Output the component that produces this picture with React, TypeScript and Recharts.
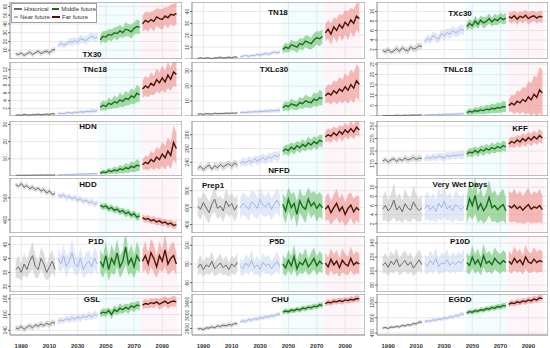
import { ComposedChart, Line, Area, XAxis, YAxis, CartesianGrid, ReferenceArea } from "recharts";

// one value every second year, 1986..2100
const years = Array.from({ length: 58 }, (_, i) => 1986 + 2 * i);
const periodKeys = ["hist", "near", "mid", "far"];
const periodLabels = ["Historical", "Near future", "Middle future", "Far future"];
const periodEnds = [15, 30, 45, 58];
const xTicks = [1990, 2010, 2030, 2050, 2070, 2090];

const titles = [
  "TX30", "TN18", "TXc30",
  "TNc18", "TXLc30", "TNLc18",
  "HDN", "NFFD", "KFF",
  "HDD", "Prep1", "Very Wet Days",
  "P1D", "P5D", "P10D",
  "GSL", "CHU", "EGDD",
];

const tx30 = [6, 5, 7, 4, 6, 8, 5, 7, 9, 6, 8, 9, 7, 10, 11, 15, 18, 16, 17, 20, 19, 21, 19, 23, 22, 21, 24, 26, 24, 25, 22, 26, 25, 28, 27, 30, 29, 32, 30, 34, 33, 31, 35, 37, 36, 40, 44, 42, 45, 43, 48, 46, 45, 49, 47, 51, 50, 52];
const tx30Spread = [2, 3, 2, 3, 2, 3, 3, 2, 3, 3, 2, 3, 3, 3, 3, 3, 4, 4, 3, 4, 5, 4, 4, 5, 4, 5, 5, 4, 5, 5, 5, 6, 7, 6, 7, 6, 8, 7, 6, 8, 7, 8, 7, 8, 8, 9, 10, 11, 9, 12, 10, 11, 12, 10, 12, 11, 13, 12];

const tn18 = [0.5, 1, 0.4, 1, 0.8, 0.3, 1, 0.9, 1.5, 0.8, 1, 1.6, 1, 1.8, 1.5, 2, 2.4, 3, 2.2, 3.1, 2.8, 3.9, 3.2, 4.1, 4.8, 4, 5, 5.8, 5.1, 6, 8, 10, 9, 12, 11, 10, 13, 12, 15, 14, 13, 16, 18, 17, 19, 22, 25, 21, 27, 24, 29, 26, 31, 28, 33, 30, 36, 34];
const tn18Spread = [0.6, 0.8, 0.7, 0.9, 0.8, 0.7, 0.9, 0.8, 1, 0.9, 0.8, 1, 0.9, 1, 1, 1, 1.2, 1.1, 1.3, 1.2, 1.4, 1.3, 1.5, 1.4, 1.6, 1.5, 1.7, 1.6, 1.8, 1.8, 3, 4, 3.5, 4.5, 4, 5, 4.5, 5, 4.8, 5.5, 5, 6, 5.5, 6.2, 6, 7, 8, 9, 8, 10, 9, 11, 10, 12, 10, 12, 11, 13];

const txc30 = [1.8, 1.5, 2.0, 1.4, 1.7, 2.2, 1.6, 2.4, 1.9, 1.7, 2.5, 2.1, 2.3, 2.8, 2.6, 3.6, 4.4, 3.9, 5.0, 4.5, 4.2, 5.4, 4.9, 5.6, 5.2, 6.0, 5.5, 5.8, 6.3, 6.0, 6.8, 7.5, 7.0, 8.0, 7.3, 8.2, 7.6, 7.9, 8.5, 7.8, 8.4, 8.1, 8.7, 8.3, 8.6, 8.9, 8.6, 9.1, 8.4, 9.0, 8.7, 9.2, 8.5, 8.9, 9.1, 8.6, 9.0, 8.8];
const txc30Spread = [0.5, 0.6, 0.7, 0.5, 0.6, 0.8, 0.6, 0.7, 0.6, 0.8, 0.7, 0.6, 0.8, 0.7, 0.7, 0.7, 0.8, 0.9, 0.8, 1.0, 0.9, 0.8, 1.0, 0.9, 1.1, 1.0, 0.9, 1.0, 1.1, 1.0, 0.8, 1.0, 0.9, 1.1, 1.0, 0.9, 1.2, 1.0, 1.1, 0.9, 1.2, 1.0, 1.1, 1.0, 1.2, 1.0, 1.2, 1.1, 1.3, 1.0, 1.2, 1.1, 1.3, 1.2, 1.0, 1.2, 1.1, 1.3];

const tnc18 = [0.2, 0.3, 0.2, 0.4, 0.3, 0.2, 0.4, 0.3, 0.5, 0.3, 0.4, 0.5, 0.4, 0.6, 0.5, 0.6, 0.7, 0.6, 0.8, 0.9, 0.7, 1.0, 0.9, 1.1, 1.0, 1.2, 1.1, 1.3, 1.2, 1.4, 2.3, 2.8, 2.5, 3.3, 3.0, 3.7, 3.4, 4.2, 3.8, 4.6, 4.3, 5.2, 4.8, 5.9, 5.5, 7.0, 7.8, 7.3, 8.5, 7.9, 9.4, 8.6, 9.9, 8.8, 10.6, 9.5, 11.4, 10.8];
const tnc18Spread = [0.2, 0.2, 0.2, 0.3, 0.2, 0.2, 0.3, 0.2, 0.3, 0.2, 0.3, 0.3, 0.3, 0.3, 0.3, 0.3, 0.4, 0.3, 0.4, 0.4, 0.4, 0.5, 0.4, 0.5, 0.5, 0.5, 0.5, 0.6, 0.5, 0.6, 1.0, 1.3, 1.1, 1.5, 1.2, 1.6, 1.4, 1.8, 1.5, 1.9, 1.6, 2.0, 1.8, 2.2, 2.0, 2.2, 2.6, 2.4, 2.9, 2.5, 3.0, 2.7, 3.2, 2.8, 3.4, 3.0, 3.6, 3.3];

const txlc30 = [1.2, 1.5, 1.1, 1.6, 1.4, 1.3, 1.8, 1.5, 1.7, 1.6, 1.9, 1.7, 2.0, 1.8, 2.1, 2.2, 2.5, 2.3, 2.7, 2.6, 2.9, 2.7, 3.1, 3.0, 3.3, 3.2, 3.6, 3.4, 3.8, 3.7, 5.5, 7.0, 6.2, 8.1, 7.3, 6.8, 9.0, 8.2, 10.1, 9.3, 8.8, 11.2, 10.4, 12.3, 11.6, 13.5, 15.2, 14.0, 16.8, 15.1, 18.0, 16.4, 19.5, 17.2, 21.0, 18.6, 23.5, 21.0];
const txlc30Spread = [0.6, 0.7, 0.6, 0.8, 0.7, 0.6, 0.8, 0.7, 0.8, 0.7, 0.9, 0.8, 0.9, 0.8, 0.9, 1.0, 1.1, 1.0, 1.2, 1.1, 1.2, 1.1, 1.3, 1.2, 1.3, 1.2, 1.4, 1.3, 1.5, 1.4, 2.5, 3.0, 2.8, 3.4, 3.1, 3.0, 3.8, 3.5, 4.2, 3.9, 3.7, 4.6, 4.3, 5.0, 4.8, 5.0, 6.0, 6.5, 7.0, 7.5, 8.0, 8.0, 9.0, 9.0, 10.0, 10.0, 11.0, 11.0];

const tnlc18 = [0.2, 0.3, 0.2, 0.3, 0.2, 0.4, 0.3, 0.3, 0.4, 0.3, 0.4, 0.5, 0.4, 0.5, 0.5, 0.5, 0.6, 0.6, 0.7, 0.6, 0.8, 0.7, 0.8, 0.9, 0.8, 1.0, 0.9, 1.1, 1.0, 1.2, 1.6, 2.2, 1.9, 2.6, 2.3, 2.9, 2.6, 3.3, 3.0, 3.7, 3.4, 4.1, 3.8, 4.6, 4.3, 5.0, 6.2, 5.4, 7.1, 6.3, 8.0, 7.0, 9.2, 7.8, 10.5, 9.0, 12.6, 11.0];
const tnlc18Spread = [0.2, 0.2, 0.2, 0.2, 0.2, 0.3, 0.2, 0.2, 0.3, 0.2, 0.3, 0.3, 0.3, 0.3, 0.3, 0.3, 0.4, 0.4, 0.4, 0.4, 0.5, 0.4, 0.5, 0.5, 0.5, 0.6, 0.5, 0.6, 0.6, 0.7, 1.2, 1.5, 1.3, 1.7, 1.5, 1.9, 1.7, 2.1, 1.9, 2.3, 2.1, 2.5, 2.3, 2.7, 2.5, 3, 4, 4.5, 5, 5.5, 6, 6.5, 7.5, 8, 9, 9.5, 11, 11];

const hdn = [0.4, 0.5, 0.4, 0.5, 0.5, 0.4, 0.6, 0.5, 0.5, 0.6, 0.5, 0.6, 0.6, 0.5, 0.7, 0.7, 0.8, 0.7, 0.9, 0.8, 1.0, 0.9, 1.1, 1.0, 1.2, 1.1, 1.3, 1.2, 1.4, 1.3, 1.6, 2.4, 2.0, 3.1, 2.6, 3.5, 3.0, 4.2, 3.6, 4.8, 4.2, 5.6, 5.0, 6.3, 5.8, 6.5, 8.0, 7.2, 9.6, 8.3, 11.0, 9.5, 12.8, 10.6, 14.5, 12.0, 19.5, 16.0];
const hdnSpread = [0.2, 0.2, 0.2, 0.2, 0.2, 0.2, 0.3, 0.2, 0.2, 0.3, 0.2, 0.3, 0.3, 0.2, 0.3, 0.3, 0.4, 0.3, 0.4, 0.4, 0.5, 0.4, 0.5, 0.5, 0.6, 0.5, 0.6, 0.6, 0.7, 0.6, 1.0, 1.4, 1.2, 1.8, 1.5, 2.0, 1.8, 2.4, 2.1, 2.7, 2.4, 3.0, 2.8, 3.4, 3.1, 3, 4, 4, 5, 5, 6, 6, 7, 7, 8, 8, 10, 9];

const nffd = [231, 234, 229, 233, 236, 230, 235, 232, 237, 233, 236, 238, 234, 239, 236, 238, 241, 239, 243, 240, 245, 242, 244, 247, 243, 248, 246, 250, 248, 251, 256, 259, 257, 262, 259, 264, 261, 266, 263, 268, 265, 270, 267, 272, 270, 277, 280, 278, 283, 279, 285, 281, 287, 283, 289, 284, 291, 287];
const nffdSpread = [4, 5, 4, 5, 5, 4, 6, 5, 5, 6, 5, 5, 6, 5, 6, 5, 6, 5, 6, 6, 5, 7, 6, 6, 7, 6, 7, 6, 7, 7, 6, 7, 8, 7, 8, 7, 8, 8, 7, 9, 8, 8, 9, 8, 9, 8, 9, 10, 9, 10, 9, 11, 10, 10, 11, 10, 11, 10];

const kff = [180, 183, 178, 182, 185, 179, 184, 181, 186, 182, 184, 187, 183, 186, 185, 184, 187, 185, 189, 186, 190, 188, 186, 191, 189, 192, 190, 193, 191, 194, 194, 198, 196, 201, 197, 203, 200, 205, 202, 207, 204, 209, 206, 211, 208, 214, 219, 216, 222, 218, 225, 220, 227, 222, 229, 224, 231, 226];
const kffSpread = [5, 6, 5, 6, 5, 6, 6, 5, 7, 6, 6, 7, 6, 7, 6, 6, 7, 6, 7, 7, 6, 8, 7, 7, 8, 7, 8, 7, 8, 8, 7, 8, 9, 8, 9, 8, 10, 9, 9, 10, 9, 10, 9, 10, 10, 9, 10, 11, 10, 12, 11, 12, 11, 13, 12, 12, 13, 12];

const hdd = [560, 552, 565, 548, 556, 541, 550, 536, 545, 530, 538, 522, 531, 515, 520, 512, 506, 514, 500, 507, 495, 502, 489, 496, 482, 490, 476, 484, 470, 478, 466, 458, 463, 450, 456, 443, 449, 436, 442, 428, 435, 420, 428, 412, 418, 410, 402, 406, 396, 400, 390, 395, 386, 390, 380, 385, 374, 378];
const hddSpread = [10, 12, 11, 13, 12, 11, 13, 12, 12, 13, 12, 13, 12, 13, 13, 12, 13, 12, 14, 13, 12, 14, 13, 13, 14, 13, 14, 13, 14, 14, 13, 14, 15, 14, 15, 14, 16, 15, 14, 16, 15, 16, 15, 16, 16, 14, 15, 16, 15, 17, 16, 17, 16, 15, 17, 16, 17, 16];

const prep1 = [620, 580, 660, 600, 540, 640, 700, 590, 620, 560, 680, 610, 650, 570, 630, 600, 650, 620, 580, 670, 640, 590, 700, 630, 610, 660, 580, 640, 690, 620, 640, 560, 700, 600, 650, 520, 680, 610, 580, 700, 620, 660, 590, 640, 600, 580, 620, 540, 600, 650, 560, 610, 520, 590, 630, 550, 600, 570];
const prep1Spread = [110, 130, 120, 140, 125, 115, 150, 130, 120, 135, 145, 125, 130, 140, 120, 120, 135, 125, 140, 130, 150, 125, 145, 130, 120, 140, 135, 125, 150, 130, 130, 150, 140, 160, 135, 155, 145, 130, 165, 140, 150, 135, 160, 145, 140, 140, 160, 145, 155, 170, 150, 160, 140, 165, 150, 155, 145, 160];

const veryWet = [5.2, 6.0, 4.8, 5.6, 7.2, 5.0, 5.8, 4.6, 6.4, 5.4, 5.0, 6.8, 5.6, 4.9, 5.5, 5.3, 6.1, 5.0, 5.8, 4.7, 6.5, 5.5, 7.0, 5.2, 5.9, 4.8, 6.2, 5.6, 5.1, 5.8, 5.0, 7.5, 6.0, 8.2, 5.2, 6.4, 4.9, 5.8, 7.8, 5.5, 6.0, 5.1, 5.7, 6.2, 4.8, 5.9, 5.5, 6.1, 5.3, 5.8, 5.0, 5.6, 6.2, 5.2, 5.7, 5.4, 6.0, 5.1];
const veryWetSpread = [2.6, 3.2, 2.4, 2.9, 3.8, 2.6, 3.0, 2.4, 3.4, 2.8, 2.6, 3.6, 2.9, 2.5, 2.8, 2.6, 3.1, 2.5, 3.0, 2.4, 3.4, 2.8, 3.6, 2.6, 3.0, 2.5, 3.2, 2.9, 2.6, 3.0, 2.9, 3.8, 3.2, 4.0, 3.0, 3.5, 2.8, 3.2, 3.9, 3.1, 3.4, 2.9, 3.2, 3.5, 2.8, 3.3, 3.2, 3.6, 3.1, 3.5, 3.0, 3.4, 3.7, 3.1, 3.4, 3.2, 3.6, 3.1];

const p1d = [36, 37, 35, 38, 36, 39, 41, 37, 36, 40, 38, 35, 37, 39, 36, 40, 38, 41, 37, 39, 42, 38, 37, 40, 36, 38, 39, 37, 40, 38, 39, 37, 41, 36, 40, 38, 42, 37, 39, 44, 38, 40, 37, 41, 39, 39, 41, 38, 42, 40, 37, 41, 39, 43, 38, 40, 41, 38];
const p1dSpread = [3, 4, 3, 4, 3, 4, 5, 4, 3, 4, 4, 3, 4, 4, 3, 4, 3, 4, 4, 3, 5, 4, 3, 4, 3, 4, 4, 3, 4, 4, 4, 4, 5, 4, 5, 4, 5, 4, 4, 6, 4, 5, 4, 5, 4, 4, 5, 4, 5, 5, 4, 5, 4, 6, 4, 5, 5, 4];

const p5d = [76, 80, 74, 79, 77, 83, 75, 78, 81, 76, 79, 74, 80, 77, 82, 78, 75, 81, 77, 84, 76, 79, 74, 82, 78, 80, 75, 79, 83, 77, 80, 76, 84, 78, 88, 75, 82, 79, 85, 77, 81, 86, 78, 83, 80, 81, 77, 85, 79, 83, 76, 84, 80, 78, 86, 79, 82, 80];
const p5dSpread = [8, 10, 8, 9, 9, 11, 8, 9, 10, 8, 10, 8, 9, 9, 10, 9, 8, 10, 9, 11, 8, 10, 8, 10, 9, 10, 8, 9, 11, 9, 10, 9, 11, 10, 13, 9, 11, 10, 12, 9, 11, 12, 10, 11, 10, 11, 10, 12, 11, 12, 10, 13, 11, 10, 13, 11, 12, 11];

const p10d = [108, 112, 105, 114, 109, 117, 106, 111, 115, 108, 113, 104, 110, 116, 109, 111, 107, 115, 109, 118, 106, 112, 110, 116, 108, 113, 109, 114, 111, 117, 112, 108, 120, 110, 116, 107, 122, 111, 114, 109, 118, 113, 110, 115, 112, 114, 110, 118, 112, 116, 109, 120, 113, 111, 117, 112, 115, 113];
const p10dSpread = [12, 14, 12, 15, 13, 16, 12, 14, 15, 13, 14, 12, 13, 15, 13, 13, 12, 15, 13, 16, 12, 14, 13, 15, 12, 14, 13, 14, 13, 15, 14, 13, 16, 14, 16, 13, 17, 14, 15, 13, 16, 14, 14, 15, 14, 15, 14, 17, 15, 16, 14, 17, 15, 14, 17, 15, 16, 15];

const gsl = [143, 142, 145, 141, 144, 146, 143, 147, 145, 148, 146, 149, 147, 150, 149, 151, 153, 152, 155, 153, 156, 154, 157, 155, 158, 156, 159, 157, 160, 159, 161, 163, 162, 165, 160, 166, 164, 168, 166, 169, 167, 171, 169, 172, 171, 172, 174, 173, 175, 174, 176, 173, 175, 177, 174, 176, 177, 176];
const gslSpread = [3, 4, 3, 4, 3, 4, 4, 3, 4, 4, 3, 4, 4, 4, 4, 4, 4, 3, 4, 4, 5, 4, 4, 5, 4, 4, 5, 4, 5, 4, 4, 5, 5, 4, 6, 5, 5, 6, 5, 5, 6, 5, 6, 5, 6, 5, 6, 5, 6, 6, 5, 7, 6, 6, 7, 6, 7, 6];

const chu = [2580, 2600, 2560, 2620, 2610, 2650, 2620, 2680, 2660, 2700, 2680, 2720, 2700, 2750, 2740, 2800, 2830, 2820, 2870, 2850, 2900, 2880, 2930, 2920, 2960, 2950, 2990, 2980, 3030, 3040, 3100, 3130, 3110, 3160, 3140, 3190, 3160, 3220, 3200, 3250, 3230, 3280, 3260, 3320, 3300, 3360, 3400, 3380, 3430, 3410, 3450, 3420, 3470, 3450, 3490, 3470, 3510, 3500];
const chuSpread = [50, 60, 55, 65, 60, 55, 65, 60, 60, 70, 60, 65, 60, 70, 65, 60, 65, 60, 70, 65, 60, 70, 65, 70, 65, 70, 65, 70, 75, 70, 70, 75, 70, 80, 75, 70, 80, 75, 80, 75, 85, 80, 75, 85, 80, 80, 90, 85, 95, 85, 90, 100, 90, 95, 100, 90, 100, 95];

const egdd = [530, 545, 520, 560, 550, 575, 560, 600, 585, 620, 605, 650, 640, 690, 680, 700, 720, 710, 745, 735, 770, 755, 800, 785, 830, 815, 860, 850, 900, 890, 930, 960, 945, 985, 970, 1010, 995, 1040, 1025, 1070, 1050, 1095, 1080, 1120, 1110, 1150, 1190, 1170, 1215, 1195, 1240, 1220, 1265, 1240, 1290, 1265, 1320, 1300];
const egddSpread = [35, 40, 35, 45, 40, 38, 45, 42, 40, 45, 42, 48, 45, 50, 48, 45, 50, 45, 55, 50, 48, 55, 52, 50, 55, 52, 58, 55, 60, 58, 55, 60, 58, 65, 60, 62, 65, 62, 68, 65, 70, 66, 72, 68, 70, 70, 78, 72, 80, 75, 82, 78, 85, 80, 88, 82, 90, 85];

const panels = [
  { values: tx30, spread: tx30Spread, domain: [0, 65], ticks: [10, 20, 30, 40, 50, 60] },
  { values: tn18, spread: tn18Spread, domain: [0, 48], ticks: [0, 10, 20, 30, 40] },
  { values: txc30, spread: txc30Spread, domain: [0, 12], ticks: [2, 4, 6, 8, 10] },
  { values: tnc18, spread: tnc18Spread, domain: [0, 14], ticks: [2, 4, 6, 8, 10, 12] },
  { values: txlc30, spread: txlc30Spread, domain: [0, 36], ticks: [0, 10, 20, 30] },
  { values: tnlc18, spread: tnlc18Spread, domain: [0, 26], ticks: [0, 5, 10, 15, 20, 25] },
  { values: hdn, spread: hdnSpread, domain: [0, 32], ticks: [10, 20, 30] },
  { values: nffd, spread: nffdSpread, domain: [220, 300], ticks: [240, 260, 280] },
  { values: kff, spread: kffSpread, domain: [150, 260], ticks: [175, 200, 225, 250] },
  { values: hdd, spread: hddSpread, domain: [340, 590], ticks: [400, 500] },
  { values: prep1, spread: prep1Spread, domain: [300, 950], ticks: [400, 600, 800] },
  { values: veryWet, spread: veryWetSpread, domain: [0, 12], ticks: [2, 4, 6, 8, 10] },
  { values: p1d, spread: p1dSpread, domain: [28, 48], ticks: [30, 35, 40, 45] },
  { values: p5d, spread: p5dSpread, domain: [50, 110], ticks: [60, 80, 100] },
  { values: p10d, spread: p10dSpread, domain: [70, 150], ticks: [80, 100, 120, 140] },
  { values: gsl, spread: gslSpread, domain: [134, 186], ticks: [140, 160, 180] },
  { values: chu, spread: chuSpread, domain: [2400, 3650], ticks: [2600, 3000, 3400] },
  { values: egdd, spread: egddSpread, domain: [350, 1420], ticks: [400, 800, 1200] },
];

const lineColors = { hist: "#6a6a6a", near: "#a6b6e2", mid: "#17701a", far: "#4a1608" };
const bandColors = { hist: "#bdbdbd", near: "#c8d5f0", mid: "#6cc26e", far: "#ec8f8c" };
const bandOpacity = { hist: 0.5, near: 0.55, mid: 0.6, far: 0.6 };
const lineWidths = { hist: 1, near: 1, mid: 1.4, far: 1.4 };

// layout
const colLeft = [0, 182, 367];
const plotW = [172, 173, 171];
const yAxisW = 10;
const rowTop = [2, 62, 121, 178, 236, 294];
const rowH = [57, 54, 55, 55, 56, 41];
const titlePos = [
  [92, 55], [278, 13], [460, 14],
  [95, 70], [274, 70], [458, 70],
  [88, 127], [279, 171], [520, 129],
  [88, 185], [213, 186], [460, 185],
  [96, 242], [277, 242], [460, 242],
  [92, 300], [280, 300], [460, 300],
];

const buildRows = (values: number[], spread: number[]) =>
  years.map((year, i) => {
    const p = periodKeys[periodEnds.findIndex((e) => i < e)];
    return { year, [p]: values[i], [p + "Band"]: [values[i] - spread[i], values[i] + spread[i]] };
  });

const RotTick = (props: any) => {
  const { x, y, payload } = props;
  return (
    <text x={x + 1} y={y} transform={`rotate(-90 ${x + 1} ${y})`} textAnchor="middle" fontSize={5} fill="#444">
      {payload.value}
    </text>
  );
};

const Panel = ({ idx }: { idx: number }) => {
  const p = panels[idx];
  const row = Math.floor(idx / 3);
  const col = idx % 3;
  const last = row === 5;
  const h = rowH[row] + (last ? 14 : 0);
  const w = yAxisW + plotW[col];
  const rows = buildRows(p.values, p.spread);
  return (
    <div style={{ position: "absolute", left: colLeft[col], top: rowTop[row], width: w, height: h }}>
      <ComposedChart
        width={w}
        height={h}
        data={rows}
        margin={{ top: 0, right: 0, bottom: 0, left: 0 }}
        style={{ overflow: "visible" }}
      >
        <CartesianGrid stroke="#e2e2e2" strokeWidth={0.8} verticalValues={xTicks} />
        <ReferenceArea x1={2045} x2={2075} y1={p.domain[0]} y2={p.domain[1]} fill="#c9f4f4" fillOpacity={0.22} stroke="none" />
        <ReferenceArea x1={2075} x2={2101} y1={p.domain[0]} y2={p.domain[1]} fill="#fbd3df" fillOpacity={0.22} stroke="none" />
        <XAxis
          type="number"
          dataKey="year"
          domain={[1982, 2104]}
          ticks={xTicks}
          hide={!last}
          height={14}
          axisLine={false}
          tickLine={false}
          tick={{ fontSize: 6, fill: "#333", fontWeight: 600 }}
          tickMargin={3}
          interval={0}
        />
        <YAxis
          width={yAxisW}
          domain={p.domain}
          ticks={p.ticks}
          allowDataOverflow
          interval={0}
          axisLine={false}
          tickLine={{ stroke: "#666" }}
          tickSize={2}
          tick={<RotTick />}
        />
        {periodKeys.map((k) => (
          <Area
            key={k + "b"}
            dataKey={k + "Band"}
            type="linear"
            stroke="none"
            fill={(bandColors as any)[k]}
            fillOpacity={(bandOpacity as any)[k]}
            isAnimationActive={false}
          />
        ))}
        {periodKeys.map((k) => (
          <Line
            key={k}
            dataKey={k}
            type="linear"
            stroke={(lineColors as any)[k]}
            strokeWidth={(lineWidths as any)[k]}
            dot={false}
            isAnimationActive={false}
          />
        ))}
        <ReferenceArea x1={1982} x2={2104} y1={p.domain[0]} y2={p.domain[1]} fill="none" stroke="#8a8a8a" strokeWidth={1} />
      </ComposedChart>
    </div>
  );
};

const Legend4 = () => (
  <div
    style={{
      position: "absolute",
      left: 11,
      top: 3,
      width: 84,
      height: 17,
      border: "1px solid #a0a0a0",
      background: "rgba(255,255,255,0.9)",
      display: "grid",
      gridTemplateColumns: "38px 46px",
      gridTemplateRows: "8px 8px",
      gridAutoFlow: "column",
      fontSize: 6,
      lineHeight: "8px",
      color: "#333",
      paddingTop: 1,
    }}
  >
    {periodKeys.map((k, i) => (
      <div key={k} style={{ display: "flex", alignItems: "center", whiteSpace: "nowrap" }}>
        <span style={{ display: "inline-block", width: 8, height: 1.5, background: (lineColors as any)[k], margin: "0 2px 0 2px" }} />
        {periodLabels[i]}
      </div>
    ))}
  </div>
);

export default function App() {
  return (
    <div
      style={{
        position: "absolute",
        left: 0,
        top: 0,
        width: 550,
        height: 348,
        background: "#fff",
        fontFamily: "'Liberation Sans', Arial, sans-serif",
        overflow: "hidden",
      }}
    >
      {panels.map((_, i) => (
        <Panel key={i} idx={i} />
      ))}
      {titles.map((t, i) => (
        <div
          key={t}
          style={{
            position: "absolute",
            left: titlePos[i][0] - 40,
            top: titlePos[i][1] - 5,
            width: 80,
            textAlign: "center",
            fontSize: 8,
            lineHeight: "10px",
            fontWeight: "bold",
            color: "#111",
          }}
        >
          {t}
        </div>
      ))}
      <Legend4 />
    </div>
  );
}
